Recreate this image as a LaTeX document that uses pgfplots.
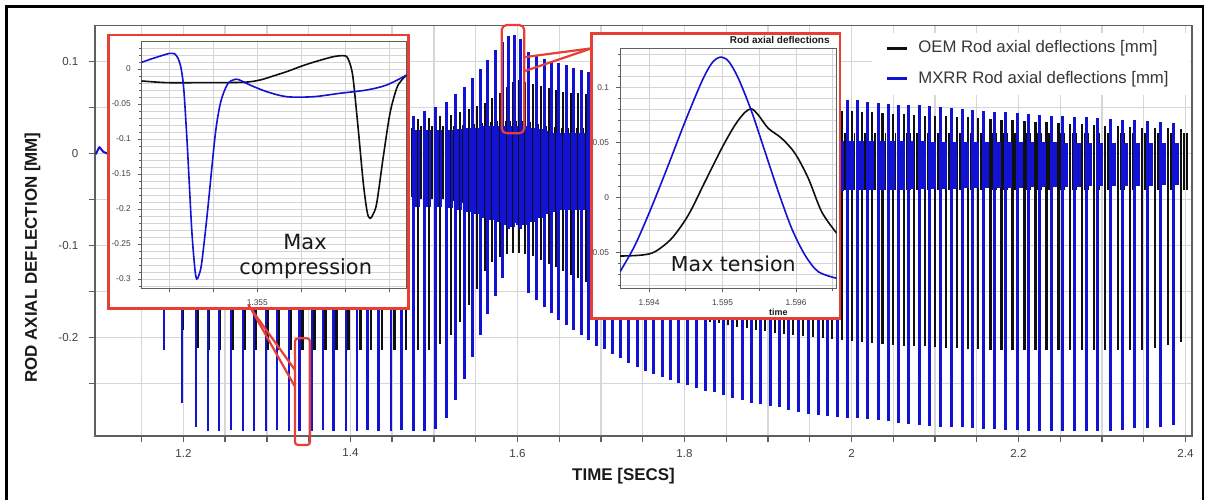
\documentclass[border=0pt]{standalone}
\usepackage{pgfplots}
\pgfplotsset{compat=1.18}
\usepackage{pgfplotstable}
\usepackage{fontspec}
\setmainfont{Liberation Sans}
\newfontfamily\dejavu{DejaVu Sans}
\definecolor{mblue}{RGB}{18,18,212}
\definecolor{oem}{RGB}{15,15,15}
\definecolor{cred}{RGB}{230,64,54}
\definecolor{gridc}{RGB}{214,214,214}
\definecolor{igrid}{RGB}{212,212,212}
\definecolor{axc}{RGB}{95,95,95}
\definecolor{tickc}{RGB}{64,64,64}
\definecolor{legc}{RGB}{55,55,55}
\definecolor{txtc}{RGB}{25,25,25}

% MXRR (blue): spike time, tension peak, compression peak, band top, band bottom
\pgfplotstableread{
t up dn bu bd
1.1767 0.030 -0.214 0.020 -0.050
1.1982 0.030 -0.271 0.020 -0.050
1.2150 0.032 -0.297 0.020 -0.050
1.2293 0.032 -0.302 0.020 -0.050
1.2425 0.032 -0.302 0.020 -0.050
1.2569 0.032 -0.301 0.020 -0.050
1.2712 0.033 -0.302 0.020 -0.050
1.2844 0.033 -0.302 0.020 -0.050
1.2988 0.033 -0.302 0.020 -0.050
1.3119 0.033 -0.301 0.020 -0.050
1.3263 0.034 -0.302 0.020 -0.050
1.3394 0.034 -0.302 0.020 -0.050
1.3538 0.034 -0.302 0.020 -0.050
1.3670 0.034 -0.301 0.020 -0.050
1.3801 0.035 -0.302 0.020 -0.050
1.3945 0.035 -0.302 0.020 -0.050
1.4077 0.035 -0.302 0.020 -0.050
1.4208 0.035 -0.301 0.020 -0.050
1.4340 0.036 -0.302 0.020 -0.050
1.4484 0.036 -0.302 0.020 -0.050
1.4615 0.036 -0.301 0.022 -0.052
1.4759 0.040 -0.302 0.025 -0.058
1.4891 0.046 -0.302 0.025 -0.058
1.5022 0.050 -0.300 0.025 -0.058
1.5154 0.056 -0.288 0.025 -0.060
1.5262 0.064 -0.268 0.026 -0.062
1.5370 0.072 -0.245 0.027 -0.064
1.5465 0.082 -0.221 0.028 -0.066
1.5561 0.092 -0.197 0.030 -0.070
1.5645 0.101 -0.175 0.030 -0.072
1.5741 0.112 -0.155 0.030 -0.075
1.5825 0.121 -0.136 0.030 -0.078
1.5896 0.127 -0.082 0.030 -0.080
1.5968 0.129 -0.076 0.030 -0.078
1.6040 0.124 -0.082 0.030 -0.078
1.6136 0.110 -0.152 0.028 -0.075
1.6232 0.106 -0.160 0.026 -0.070
1.6327 0.103 -0.167 0.024 -0.066
1.6411 0.100 -0.174 0.022 -0.064
1.6495 0.098 -0.181 0.022 -0.062
1.6591 0.096 -0.187 0.022 -0.062
1.6674 0.093 -0.192 0.022 -0.062
1.6770 0.090 -0.198 0.022 -0.062
1.6854 0.088 -0.203 0.022 -0.062
1.6950 0.086 -0.209 0.022 -0.062
1.7046 0.085 -0.213 0.022 -0.062
1.7141 0.084 -0.218 0.022 -0.060
1.7237 0.083 -0.223 0.022 -0.060
1.7333 0.082 -0.228 0.022 -0.060
1.7441 0.081 -0.232 0.022 -0.060
1.7536 0.080 -0.237 0.021 -0.058
1.7632 0.079 -0.240 0.021 -0.058
1.7740 0.078 -0.243 0.021 -0.058
1.7836 0.077 -0.246 0.021 -0.056
1.7931 0.076 -0.250 0.020 -0.056
1.8039 0.075 -0.252 0.020 -0.055
1.8147 0.074 -0.255 0.020 -0.054
1.8255 0.073 -0.258 0.019 -0.053
1.8362 0.072 -0.260 0.019 -0.052
1.8470 0.071 -0.263 0.018 -0.051
1.8578 0.070 -0.266 0.017 -0.050
1.8697 0.069 -0.268 0.017 -0.049
1.8805 0.068 -0.271 0.016 -0.048
1.8913 0.067 -0.273 0.016 -0.047
1.9033 0.066 -0.275 0.015 -0.046
1.9140 0.065 -0.276 0.015 -0.045
1.9248 0.064 -0.279 0.015 -0.044
1.9368 0.063 -0.281 0.014 -0.043
1.9487 0.062 -0.283 0.014 -0.042
1.9607 0.061 -0.284 0.014 -0.042
1.9715 0.060 -0.286 0.013 -0.041
1.9835 0.059 -0.287 0.013 -0.041
1.9954 0.058 -0.288 0.013 -0.040
2.0074 0.058 -0.288 0.013 -0.040
2.0194 0.056 -0.289 0.013 -0.040
2.0325 0.055 -0.290 0.013 -0.040
2.0445 0.054 -0.291 0.013 -0.040
2.0565 0.053 -0.293 0.013 -0.040
2.0684 0.053 -0.294 0.013 -0.039
2.0816 0.052 -0.295 0.013 -0.039
2.0936 0.051 -0.296 0.012 -0.039
2.1068 0.050 -0.297 0.012 -0.039
2.1199 0.049 -0.298 0.012 -0.039
2.1331 0.048 -0.298 0.012 -0.038
2.1451 0.047 -0.299 0.012 -0.038
2.1582 0.046 -0.300 0.012 -0.038
2.1714 0.045 -0.300 0.012 -0.038
2.1846 0.045 -0.301 0.012 -0.038
2.1989 0.044 -0.301 0.012 -0.038
2.2121 0.043 -0.302 0.012 -0.037
2.2253 0.042 -0.302 0.012 -0.037
2.2396 0.041 -0.302 0.012 -0.037
2.2528 0.040 -0.302 0.011 -0.037
2.2672 0.039 -0.302 0.011 -0.037
2.2815 0.039 -0.302 0.011 -0.036
2.2947 0.038 -0.302 0.011 -0.036
2.3103 0.037 -0.302 0.011 -0.036
2.3246 0.036 -0.301 0.011 -0.036
2.3390 0.036 -0.299 0.011 -0.036
2.3545 0.035 -0.299 0.011 -0.036
2.3701 0.034 -0.298 0.011 -0.035
2.3857 0.033 -0.295 0.011 -0.035
}\bluetab

% OEM (black)
\pgfplotstableread{
t up dn bu bd
1.1782 0.030 -0.150 0.025 -0.045
1.1997 0.030 -0.192 0.025 -0.045
1.2165 0.031 -0.212 0.025 -0.045
1.2308 0.031 -0.214 0.025 -0.045
1.2440 0.031 -0.214 0.025 -0.045
1.2591 0.032 -0.214 0.025 -0.045
1.2734 0.032 -0.214 0.025 -0.045
1.2866 0.032 -0.214 0.025 -0.045
1.3010 0.033 -0.214 0.025 -0.045
1.3141 0.033 -0.214 0.025 -0.045
1.3285 0.033 -0.214 0.025 -0.045
1.3424 0.034 -0.214 0.025 -0.045
1.3568 0.034 -0.214 0.025 -0.045
1.3700 0.034 -0.214 0.025 -0.045
1.3831 0.035 -0.214 0.025 -0.045
1.3975 0.035 -0.214 0.025 -0.045
1.4117 0.035 -0.214 0.025 -0.045
1.4248 0.035 -0.214 0.025 -0.045
1.4380 0.036 -0.214 0.025 -0.045
1.4524 0.036 -0.214 0.025 -0.045
1.4665 0.036 -0.214 0.028 -0.048
1.4809 0.037 -0.214 0.030 -0.050
1.4941 0.038 -0.214 0.030 -0.050
1.5072 0.040 -0.207 0.030 -0.050
1.5204 0.042 -0.198 0.030 -0.052
1.5312 0.045 -0.183 0.031 -0.054
1.5420 0.048 -0.165 0.032 -0.056
1.5515 0.051 -0.147 0.033 -0.058
1.5611 0.055 -0.128 0.034 -0.060
1.5695 0.060 -0.118 0.035 -0.060
1.5791 0.066 -0.113 0.035 -0.060
1.5875 0.072 -0.110 0.035 -0.060
1.5946 0.078 -0.108 0.035 -0.060
1.6018 0.080 -0.108 0.035 -0.060
1.6090 0.078 -0.110 0.034 -0.058
1.6186 0.075 -0.112 0.032 -0.056
1.6282 0.073 -0.116 0.030 -0.054
1.6377 0.071 -0.120 0.029 -0.052
1.6461 0.069 -0.124 0.028 -0.050
1.6545 0.067 -0.128 0.028 -0.050
1.6641 0.066 -0.132 0.028 -0.050
1.6724 0.065 -0.136 0.028 -0.050
1.6820 0.064 -0.140 0.028 -0.050
1.6904 0.063 -0.144 0.028 -0.050
1.7000 0.062 -0.148 0.028 -0.050
1.7096 0.062 -0.151 0.028 -0.050
1.7191 0.061 -0.154 0.028 -0.050
1.7287 0.060 -0.157 0.028 -0.050
1.7383 0.060 -0.160 0.028 -0.050
1.7491 0.059 -0.163 0.028 -0.050
1.7586 0.058 -0.166 0.028 -0.050
1.7682 0.058 -0.168 0.028 -0.050
1.7790 0.057 -0.171 0.028 -0.050
1.7886 0.056 -0.173 0.028 -0.050
1.7981 0.056 -0.176 0.027 -0.048
1.8089 0.055 -0.178 0.027 -0.048
1.8197 0.054 -0.181 0.027 -0.048
1.8305 0.054 -0.183 0.027 -0.047
1.8412 0.053 -0.185 0.026 -0.047
1.8520 0.052 -0.187 0.026 -0.046
1.8628 0.052 -0.189 0.025 -0.045
1.8747 0.051 -0.190 0.025 -0.044
1.8855 0.050 -0.192 0.024 -0.043
1.8963 0.050 -0.193 0.024 -0.042
1.9083 0.049 -0.195 0.022 -0.040
1.9190 0.049 -0.196 0.022 -0.040
1.9298 0.048 -0.197 0.022 -0.040
1.9418 0.048 -0.199 0.022 -0.040
1.9537 0.047 -0.200 0.022 -0.040
1.9657 0.047 -0.201 0.022 -0.040
1.9765 0.047 -0.202 0.022 -0.040
1.9885 0.046 -0.203 0.022 -0.040
2.0004 0.046 -0.204 0.022 -0.040
2.0124 0.045 -0.205 0.022 -0.040
2.0244 0.045 -0.206 0.022 -0.040
2.0375 0.044 -0.207 0.022 -0.040
2.0495 0.043 -0.208 0.022 -0.040
2.0630 0.043 -0.209 0.022 -0.040
2.0749 0.042 -0.209 0.022 -0.040
2.0881 0.041 -0.210 0.022 -0.040
2.1001 0.041 -0.211 0.022 -0.040
2.1133 0.040 -0.212 0.022 -0.040
2.1264 0.039 -0.212 0.022 -0.040
2.1396 0.039 -0.213 0.022 -0.040
2.1516 0.038 -0.213 0.022 -0.040
2.1662 0.037 -0.214 0.022 -0.040
2.1794 0.036 -0.214 0.022 -0.040
2.1926 0.036 -0.214 0.022 -0.040
2.2069 0.035 -0.214 0.022 -0.040
2.2201 0.034 -0.214 0.022 -0.040
2.2333 0.034 -0.214 0.022 -0.040
2.2476 0.033 -0.214 0.022 -0.040
2.2618 0.032 -0.214 0.022 -0.040
2.2762 0.032 -0.214 0.022 -0.040
2.2905 0.031 -0.214 0.022 -0.040
2.3037 0.030 -0.214 0.022 -0.040
2.3193 0.030 -0.214 0.022 -0.040
2.3336 0.029 -0.214 0.022 -0.040
2.3480 0.028 -0.214 0.022 -0.040
2.3635 0.028 -0.212 0.022 -0.040
2.3791 0.027 -0.208 0.022 -0.040
2.3947 0.026 -0.205 0.022 -0.040
}\blacktab

\begin{document}
\begin{tikzpicture}
\path[use as bounding box] (0,0) rectangle (604.5bp,-250bp);

% ---------------- main axis ----------------
\begin{axis}[
  at={(47.5bp,-218bp)}, anchor=south west,
  scale only axis, width=548.5bp, height=205.25bp,
  xmin=1.0941, xmax=2.4078, ymin=-0.3073, ymax=0.1389,
  xtick={1.2,1.4,1.6,1.8,2,2.2,2.4},
  xticklabels={1.2,1.4,1.6,1.8,2,2.2,2.4},
  minor xtick={1.15,1.25,1.3,1.35,1.45,1.5,1.55,1.65,1.7,1.75,1.85,1.9,1.95,2.05,2.1,2.15,2.25,2.3,2.35},
  ytick={-0.2,-0.1,0,0.1},
  yticklabels={-0.2,-0.1,0,0.1},
  minor ytick={-0.25,-0.15,-0.05,0.05},
  grid=both,
  major grid style={gridc, line width=0.7bp},
  minor grid style={gridc, line width=0.7bp},
  axis line style={axc, line width=0.8bp},
  tick align=outside, tick pos=left,
  major tick length=3bp, minor tick length=3bp,
  tick style={axc, line width=0.7bp},
  tick label style={font=\fontsize{5.8}{7}\selectfont, text=tickc},
  yticklabel style={xshift=-1.8bp},
  scaled ticks=false,
]
% OEM
\addplot[oem, line width=0.75bp, quiver={u=0,v=\thisrow{bu}-\thisrow{bd}}] table[x expr=\thisrow{t}+0.0035, y=bd]{\blacktab};
\addplot[oem, line width=0.75bp, quiver={u=0,v=\thisrow{bu}-\thisrow{bd}}] table[x expr=\thisrow{t}+0.0068, y=bd]{\blacktab};
\addplot[oem, line width=1.3bp, quiver={u=0,v=\thisrow{up}-\thisrow{dn}}] table[x=t, y=dn]{\blacktab};
% MXRR
\addplot[mblue, line width=1.05bp, quiver={u=0,v=\thisrow{bu}-\thisrow{bd}}] table[x expr=\thisrow{t}+0.0028, y=bd]{\bluetab};
\addplot[mblue, line width=1.05bp, quiver={u=0,v=\thisrow{bu}-\thisrow{bd}}] table[x expr=\thisrow{t}+0.0058, y=bd]{\bluetab};
\addplot[mblue, line width=1.35bp, quiver={u=0,v=\thisrow{up}-\thisrow{dn}}] table[x=t, y=dn]{\bluetab};
\addplot[mblue, line width=1bp, smooth] coordinates {(1.0951,-0.001)(1.0972,0.003)(1.0994,0.0065)(1.1018,0.004)(1.1042,0.0015)(1.1083,0)(1.1120,-0.002)};
\end{axis}

\begin{scope}[x=0.5bp, y=-0.5bp]
  % legend
  \fill[white] (872,33) rectangle (1190,95);
  \draw[oem, line width=1.5bp] (887,48.3) -- (907,48.3);
  \node[anchor=west, inner sep=0, text=legc, font=\fontsize{8.4}{10}\selectfont] at (918,48.3) {OEM Rod axial deflections [mm]};
  \draw[mblue, line width=1.5bp] (887,79) -- (907,79);
  \node[anchor=west, inner sep=0, text=legc, font=\fontsize{8.4}{10}\selectfont] at (918,79) {MXRR Rod axial deflections [mm]};
  % inset backgrounds
  \fill[white] (108.3,35) rectangle (408.3,308.3);
  \fill[white] (591.7,33.3) rectangle (840,318.3);
\end{scope}

% ---------------- inset 1: max compression ----------------
\begin{axis}[
  at={(70.85bp,-144.15bp)}, anchor=south west, scale only axis,
  width=132.5bp, height=123.3bp,
  xmin=1.353686, xmax=1.356698, ymin=-0.3133, ymax=0.039,
  xtick={1.354,1.3545,1.355,1.3555,1.356,1.3565},
  xticklabels={,,1.355,,,},
  ytick={-0.3,-0.25,-0.2,-0.15,-0.1,-0.05,0},
  yticklabels={-0.3,-0.25,-0.2,-0.15,-0.1,-0.05,0},
  minor ytick={-0.31,-0.29,-0.28,-0.27,-0.26,-0.24,-0.23,-0.22,-0.21,-0.19,-0.18,-0.17,-0.16,-0.14,-0.13,-0.12,-0.11,-0.09,-0.08,-0.07,-0.06,-0.04,-0.03,-0.02,-0.01,0.01,0.02,0.03},
  grid=both,
  major grid style={igrid, line width=0.45bp},
  minor grid style={igrid, line width=0.35bp},
  axis line style={axc, line width=0.5bp},
  tick align=outside, tick pos=left,
  major tick length=2bp, minor tick length=1.2bp,
  tick style={axc, line width=0.4bp},
  tick label style={font=\fontsize{4.2}{5}\selectfont, text=tickc},
  scaled ticks=false,
]
\addplot[oem, line width=0.8bp, smooth] coordinates {
(1.353686,-0.0171)(1.353970,-0.0195)(1.354349,-0.0195)(1.354841,-0.0190)(1.355031,-0.0157)
(1.355180,-0.0100)(1.355334,-0.0038)(1.355490,0.0035)(1.355636,0.0096)(1.355864,0.0176)
(1.355977,0.0190)(1.356020,0.0170)(1.356060,0.0050)(1.356091,-0.0157)(1.356148,-0.0871)
(1.356205,-0.1633)(1.356250,-0.2050)(1.356281,-0.2133)(1.356310,-0.2090)(1.356357,-0.1919)
(1.356432,-0.1253)(1.356508,-0.0633)(1.356584,-0.0276)(1.356640,-0.0160)(1.356698,-0.0086)};
\addplot[mblue, line width=0.8bp, smooth] coordinates {
(1.353686,0.0096)(1.353818,0.0153)(1.353950,0.0205)(1.354008,0.0224)(1.354060,0.0215)
(1.354100,0.0150)(1.354135,0.0000)(1.354165,-0.0300)(1.354205,-0.1110)(1.354255,-0.2300)
(1.354290,-0.2850)(1.354311,-0.3000)(1.354335,-0.2950)(1.354368,-0.2770)(1.354432,-0.2060)
(1.354519,-0.0970)(1.354570,-0.0550)(1.354614,-0.0350)(1.354670,-0.0200)(1.354730,-0.0155)
(1.354784,-0.0150)(1.354917,-0.0229)(1.355107,-0.0324)(1.355334,-0.0396)(1.355636,-0.0396)
(1.355940,-0.0347)(1.356243,-0.0300)(1.356470,-0.0229)(1.356698,-0.0086)};
\end{axis}

% ---------------- inset 2: max tension ----------------
\begin{axis}[
  at={(310bp,-144.15bp)}, anchor=south west, scale only axis,
  width=108.35bp, height=119.65bp,
  xmin=1.593605, xmax=1.596554, ymin=-0.0827, ymax=0.1348,
  xtick={1.594,1.595,1.596}, xticklabels={1.594,1.595,1.596},
  minor xtick={1.5935,1.5945,1.5955,1.5965},
  ytick={-0.05,0,0.05,0.1}, yticklabels={-0.05,0,0.05,0.1},
  minor ytick={-0.08,-0.07,-0.06,-0.04,-0.03,-0.02,-0.01,0.01,0.02,0.03,0.04,0.06,0.07,0.08,0.09,0.11,0.12,0.13},
  grid=both,
  major grid style={igrid, line width=0.45bp},
  minor grid style={igrid, line width=0.35bp},
  axis line style={axc, line width=0.5bp},
  tick align=outside, tick pos=left,
  major tick length=2bp, minor tick length=1.2bp,
  tick style={axc, line width=0.4bp},
  tick label style={font=\fontsize{4.2}{5}\selectfont, text=tickc},
  scaled ticks=false,
]
\addplot[oem, line width=0.8bp, smooth] coordinates {
(1.593605,-0.0534)(1.593901,-0.0525)(1.594082,-0.0494)(1.594309,-0.0373)(1.594535,-0.0161)
(1.594762,0.0142)(1.594989,0.0445)(1.595170,0.0657)(1.595306,0.0773)(1.595397,0.0803)
(1.595487,0.0748)(1.595623,0.0627)(1.595805,0.0536)(1.595986,0.0400)(1.596167,0.0173)
(1.596349,-0.0131)(1.596554,-0.0327)};
\addplot[mblue, line width=0.8bp, smooth] coordinates {
(1.593605,-0.0676)(1.593810,-0.0434)(1.594037,-0.0085)(1.594263,0.0294)(1.594490,0.0687)
(1.594717,0.1051)(1.594853,0.1218)(1.594966,0.1273)(1.595079,0.1239)(1.595215,0.1082)
(1.595397,0.0778)(1.595578,0.0415)(1.595759,0.0051)(1.595941,-0.0282)(1.596122,-0.0525)
(1.596303,-0.0676)(1.596554,-0.0736)};
\end{axis}

\begin{scope}[x=0.5bp, y=-0.5bp]
  % inset frames
  \draw[cred, line width=1.4bp] (108.3,35) rectangle (408.3,308.3);
  \draw[cred, line width=1.4bp] (591.7,33.3) rectangle (840,318.3);
  % callouts
  \draw[cred, line width=1.1bp, rounded corners=2.5bp] (501.7,25) rectangle (524.3,133.3);
  \draw[cred, line width=1.1bp] (523.3,57.3) -- (591.7,48.3);
  \draw[cred, line width=1.1bp] (525,71) -- (591.7,48.3);
  \draw[cred, line width=1.1bp, rounded corners=1.5bp] (295,338.3) rectangle (310,445);
  \draw[cred, line width=1.1bp] (248.3,305) -- (295,370);
  \draw[cred, line width=1.1bp] (251.7,310) -- (295,386.7);
  % inset texts
  \node[anchor=base, inner sep=0, text=txtc, font=\dejavu\fontsize{10.5}{12}\selectfont] at (305,250) {Max};
  \node[anchor=base, inner sep=0, text=txtc, font=\dejavu\fontsize{10.5}{12}\selectfont] at (305.7,275) {compression};
  \node[anchor=base, inner sep=0, text=txtc, font=\dejavu\fontsize{10.3}{12}\selectfont] at (733.3,271.7) {Max tension};
  \node[anchor=east, inner sep=0, text=txtc, font=\bfseries\fontsize{5}{6}\selectfont] at (830,40) {Rod axial deflections};
  \node[inner sep=0, text=txtc, font=\bfseries\fontsize{4.5}{5}\selectfont] at (778.3,312.3) {time};
  % axis labels
  \node[rotate=90, inner sep=0, text=txtc, font=\bfseries\fontsize{8.5}{10}\selectfont] at (32.5,257.5) {ROD AXIAL DEFLECTION [MM]};
  \node[inner sep=0, text=txtc, font=\bfseries\fontsize{8.5}{10}\selectfont] at (623.5,476.5) {TIME [SECS]};
  % outer frame
  \draw[black, line width=1.2bp] (6.5,500) -- (6.5,6.5) -- (1203,6.5) -- (1203,500);
\end{scope}
\end{tikzpicture}
\end{document}
